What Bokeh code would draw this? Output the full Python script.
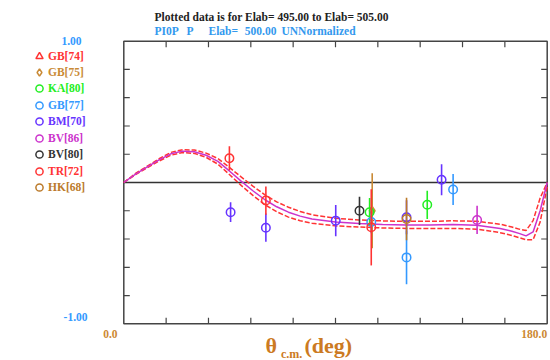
from bokeh.plotting import figure
from bokeh.models import Range1d, Label, Legend, LegendItem, ColumnDataSource
from bokeh.embed import file_html
from bokeh.resources import INLINE

# ---------------- data ----------------
THETA_MIN, THETA_MAX = 0, 180
Y_MIN, Y_MAX = -1, 1
x_ticks = [18, 36, 54, 72, 90, 108, 126, 144, 162]
y_ticks = [-0.8, -0.6, -0.4, -0.2, 0.0, 0.2, 0.4, 0.6, 0.8]

theta_fit = [0, 5, 10, 15, 20, 25, 30, 35, 40, 45, 50, 55, 60, 65, 70, 75, 80, 90,
             100, 110, 120, 130, 140, 150, 160, 165, 168, 171, 174, 177, 180]
fit_mid = [0.0, 0.06, 0.11, 0.16, 0.203, 0.222, 0.218, 0.193, 0.15, 0.08, 0.008,
           -0.06, -0.122, -0.172, -0.21, -0.238, -0.258, -0.28, -0.29, -0.297, -0.3,
           -0.3, -0.298, -0.302, -0.325, -0.345, -0.36, -0.378, -0.35, -0.2, 0.0]
fit_hi = [0.0, 0.064, 0.116, 0.168, 0.213, 0.232, 0.23, 0.208, 0.17, 0.105, 0.038,
          -0.027, -0.087, -0.137, -0.175, -0.205, -0.228, -0.253, -0.265, -0.272, -0.275,
          -0.275, -0.271, -0.274, -0.295, -0.315, -0.33, -0.34, -0.27, -0.11, 0.0]
fit_lo = [0.0, 0.056, 0.104, 0.152, 0.193, 0.212, 0.206, 0.178, 0.13, 0.055, -0.022,
          -0.093, -0.157, -0.207, -0.245, -0.271, -0.288, -0.307, -0.315, -0.322, -0.325,
          -0.325, -0.325, -0.33, -0.355, -0.375, -0.39, -0.405, -0.405, -0.28, -0.03]

gb74_theta, gb74_val, gb74_err = [], [], []
gb75_theta, gb75_val, gb75_err = [105.6], [-0.2], [0.266]
ka80_theta, ka80_val, ka80_err = [104.5, 129.0], [-0.21, -0.158], [0.1, 0.1]
gb77_theta, gb77_val, gb77_err = [105.2, 120.2, 140.0], [-0.28, -0.53, -0.05], [0.08, 0.19, 0.11]
bm70_theta = [45.4, 60.4, 90.1, 120.2, 135.1]
bm70_val = [-0.21, -0.32, -0.27, -0.246, 0.02]
bm70_err = [0.07, 0.1, 0.11, 0.12, 0.11]
bv86_theta, bv86_val, bv86_err = [150.2], [-0.265], [0.1]
bv80_theta, bv80_val, bv80_err = [100.2], [-0.2], [0.1]
tr72_theta, tr72_val, tr72_err = [44.9, 60.4, 105.2], [0.172, -0.128, -0.317], [0.085, 0.1, 0.27]
hk68_theta, hk68_val, hk68_err = [120.2], [-0.258], [0.15]

series = [
    ("GB[74]", "triangle", "#ff3333", gb74_theta, gb74_val, gb74_err),
    ("GB[75]", "diamond", "#c98a35", gb75_theta, gb75_val, gb75_err),
    ("KA[80]", "circle", "#22ee22", ka80_theta, ka80_val, ka80_err),
    ("GB[77]", "circle", "#3399ff", gb77_theta, gb77_val, gb77_err),
    ("BM[70]", "circle", "#6633ff", bm70_theta, bm70_val, bm70_err),
    ("BV[86]", "circle", "#cc33cc", bv86_theta, bv86_val, bv86_err),
    ("BV[80]", "circle", "#333333", bv80_theta, bv80_val, bv80_err),
    ("TR[72]", "circle", "#ff3333", tr72_theta, tr72_val, tr72_err),
    ("HK[68]", "circle", "#bb7a2a", hk68_theta, hk68_val, hk68_err),
]

# ---------------- layout (pixel geometry of the plot box) ----------------
W, H = 550, 360
BOX_L, BOX_R, BOX_T, BOX_B = 123.3, 546.7, 40.7, 323.3
PX_X = (BOX_R - BOX_L) / (THETA_MAX - THETA_MIN)
PX_Y = (BOX_B - BOX_T) / (Y_MAX - Y_MIN)
x_lo = THETA_MIN - BOX_L / PX_X
x_hi = THETA_MAX + (W - BOX_R) / PX_X
y_hi = Y_MAX + BOX_T / PX_Y
y_lo = Y_MIN - (H - BOX_B) / PX_Y
TICK = 6.0
tx = TICK / PX_X
ty = TICK / PX_Y

FONT = "Liberation Serif"
p = figure(width=W, height=H, output_backend="svg", toolbar_location=None,
           x_range=Range1d(x_lo, x_hi), y_range=Range1d(y_lo, y_hi),
           x_axis_location=None, y_axis_location=None,
           min_border=0, min_border_left=0, min_border_right=0,
           min_border_top=0, min_border_bottom=0)
p.outline_line_color = None
p.xgrid.visible = False
p.ygrid.visible = False
p.background_fill_color = "white"
p.border_fill_color = "white"

FRAME_COLOR = "#444444"
# plot box
p.quad(left=[THETA_MIN], right=[THETA_MAX], bottom=[Y_MIN], top=[Y_MAX],
       fill_color=None, line_color=FRAME_COLOR, line_width=1.5)
# tick marks (inward)
p.segment(x0=x_ticks, y0=[Y_MIN] * len(x_ticks), x1=x_ticks, y1=[Y_MIN + ty] * len(x_ticks),
          line_color=FRAME_COLOR, line_width=1.2)
p.segment(x0=x_ticks, y0=[Y_MAX] * len(x_ticks), x1=x_ticks, y1=[Y_MAX - ty] * len(x_ticks),
          line_color=FRAME_COLOR, line_width=1.2)
p.segment(x0=[THETA_MIN] * len(y_ticks), y0=y_ticks, x1=[THETA_MIN + tx] * len(y_ticks), y1=y_ticks,
          line_color=FRAME_COLOR, line_width=1.2)
p.segment(x0=[THETA_MAX] * len(y_ticks), y0=y_ticks, x1=[THETA_MAX - tx] * len(y_ticks), y1=y_ticks,
          line_color=FRAME_COLOR, line_width=1.2)
# zero line
p.line([THETA_MIN, THETA_MAX], [0, 0], line_color="#333333", line_width=1.5)

# fit curves
p.line(theta_fit, fit_hi, line_color="#ff3333", line_width=1.5, line_dash="5 2")
p.line(theta_fit, fit_lo, line_color="#ff3333", line_width=1.5, line_dash="5 2")
p.line(theta_fit, fit_mid, line_color="#cc33cc", line_width=1.5)

# data with error bars + per-series legends
legend_top = 55.5
legend_step = 16.45
NAN = float("nan")
for i, (name, marker, color, th, val, err) in enumerate(series):
    lo = [v - e for v, e in zip(val, err)]
    hi = [v + e for v, e in zip(val, err)]
    src = ColumnDataSource(dict(x=th, y=val, lo=lo, hi=hi))
    p.segment(x0="x", y0="lo", x1="x", y1="hi", source=src, line_color=color, line_width=1.6)
    r = p.scatter(x="x", y="y", source=src, marker=marker, size=8.5, fill_color=None,
                  line_color=color, line_width=1.5)
    if not th:
        # series without points in this energy bin: legend-only placeholder (nothing drawn)
        r = p.scatter(x=[NAN], y=[NAN], marker=marker, size=8.5, fill_color=None,
                      line_color=color, line_width=1.5)
    c = legend_top + legend_step * i
    lg = Legend(items=[LegendItem(label=name, renderers=[r])],
                location=(30, H - (c + 9)),
                glyph_width=18, glyph_height=18, label_height=18, label_standoff=0,
                padding=0, margin=0, spacing=0,
                border_line_color=None, background_fill_alpha=0,
                label_text_font=FONT, label_text_font_style="bold",
                label_text_font_size="11.5px", label_text_color=color)
    p.add_layout(lg)

# ---------------- texts ----------------
def lab(text, x, y, dx, dy, color, size="11.5px", align="left", baseline="middle"):
    p.add_layout(Label(x=x, y=y, x_offset=dx, y_offset=dy, text=text, text_color=color,
                       text_font=FONT, text_font_style="bold", text_font_size=size,
                       text_align=align, text_baseline=baseline))

lab("Plotted data is for Elab= 495.00 to Elab= 505.00", THETA_MIN, Y_MAX, 30.7, 24.7, "#222222")
lab("PI0P", THETA_MIN, Y_MAX, 30.7, 10.7, "#3399ee")
lab("P", THETA_MIN, Y_MAX, 62.7, 10.7, "#3399ee")
lab("Elab=", THETA_MIN, Y_MAX, 84.7, 10.7, "#3399ee")
lab("500.00", THETA_MIN, Y_MAX, 121.0, 10.7, "#3399ee")
lab("UNNormalized", THETA_MIN, Y_MAX, 157.7, 10.7, "#3399ee")

lab("1.00", THETA_MIN, Y_MAX, -42.3, 0, "#3399ff", align="right")
lab("-1.00", THETA_MIN, Y_MIN, -36.3, 7.3, "#3399ff", align="right")
lab("0.0", THETA_MIN, Y_MIN, -6.3, -9.7, "#cc8833", align="right")
lab("180.0", THETA_MAX, Y_MIN, 0, -9.7, "#cc8833", align="right")

lab("\u03b8", THETA_MIN, Y_MIN, 141.7, -21.7, "#cc7a22", size="22px", baseline="alphabetic")
lab("c.m.", THETA_MIN, Y_MIN, 157.2, -30.2, "#cc7a22", size="12px", baseline="alphabetic")
lab("(deg)", THETA_MIN, Y_MIN, 180.7, -21.7, "#cc7a22", size="22px", baseline="alphabetic")

open("out.html", "w").write(file_html(p, INLINE))
